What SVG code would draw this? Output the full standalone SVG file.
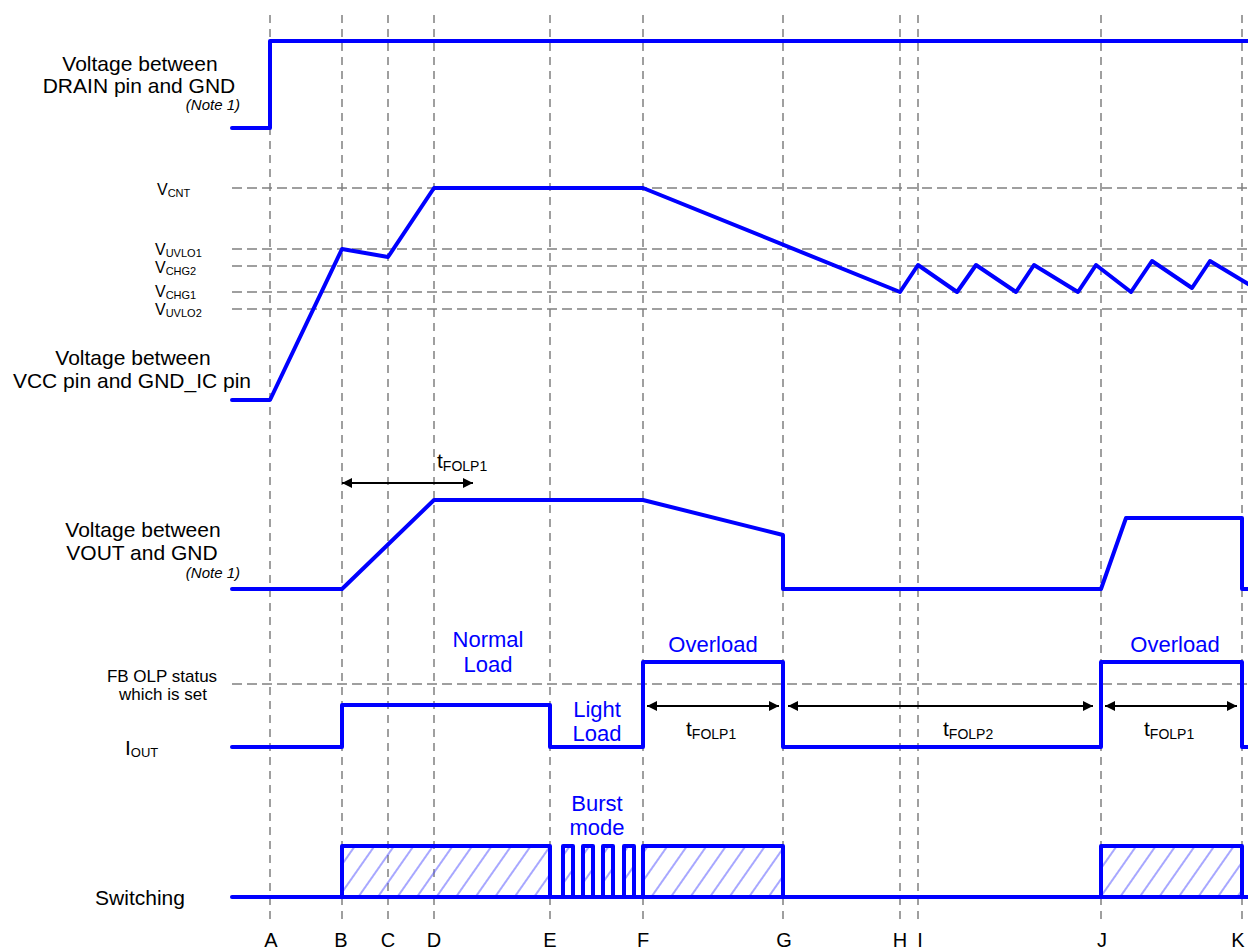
<svg xmlns="http://www.w3.org/2000/svg" width="1248" height="952" viewBox="0 0 1248 952">
<style>
.grid{stroke:#808080;stroke-width:1.5;fill:none}
.gv{stroke-dasharray:8 6}
.gh{stroke-dasharray:10 5}
.wave{stroke:#0000ff;stroke-width:4;fill:none;stroke-linejoin:round;stroke-linecap:round}
.hatch{stroke:#0000ff;stroke-width:4;fill:url(#hatch);stroke-linejoin:round}
.lbl{font-family:"Liberation Sans",Arial,sans-serif;font-size:21px;fill:#000}
.note{font-family:"Liberation Sans",Arial,sans-serif;font-size:15px;font-style:italic;fill:#000;text-anchor:end}
.vl{font-family:"Liberation Sans",Arial,sans-serif;font-size:16px;fill:#000}
.sub{font-size:11px}
.sub2{font-size:14px}
.blue{font-family:"Liberation Sans",Arial,sans-serif;font-size:22px;fill:#0000ff;text-anchor:middle}
.mid{text-anchor:middle}
.letter{font-family:"Liberation Sans",Arial,sans-serif;font-size:20px;fill:#000;text-anchor:middle}
.arr{stroke:#000;stroke-width:2;fill:none;marker-start:url(#ah);marker-end:url(#ah)}
</style>
<defs>
<pattern id="hatch" patternUnits="userSpaceOnUse" width="16" height="16" patternTransform="rotate(35)">
<line x1="8" y1="0" x2="8" y2="16" stroke="#5050ff" stroke-width="1"/>
</pattern>
<marker id="ah" viewBox="0 0 10 10" refX="10" refY="5" markerWidth="11" markerHeight="10" markerUnits="userSpaceOnUse" orient="auto-start-reverse">
<path d="M0,0 L10,5 L0,10 z" fill="#000"/>
</marker>
</defs>
<rect width="1248" height="952" fill="#fff"/>
<g id="grid">
<g class="grid gv">
<line x1="270" y1="15" x2="270" y2="925"/>
<line x1="342" y1="15" x2="342" y2="925"/>
<line x1="388" y1="15" x2="388" y2="925"/>
<line x1="434" y1="15" x2="434" y2="925"/>
<line x1="550" y1="15" x2="550" y2="925"/>
<line x1="643" y1="15" x2="643" y2="925"/>
<line x1="783" y1="15" x2="783" y2="925"/>
<line x1="900" y1="15" x2="900" y2="925"/>
<line x1="918" y1="15" x2="918" y2="925"/>
<line x1="1101" y1="15" x2="1101" y2="925"/>
<line x1="1242" y1="15" x2="1242" y2="925"/>
</g>
<g class="grid gh">
<line x1="232" y1="188" x2="1248" y2="188"/>
<line x1="232" y1="249" x2="1248" y2="249"/>
<line x1="232" y1="266" x2="1248" y2="266"/>
<line x1="232" y1="292" x2="1248" y2="292"/>
<line x1="232" y1="309" x2="1248" y2="309"/>
<line x1="232" y1="684" x2="1248" y2="684"/>
</g>
</g>
<g id="drain">
<text class="lbl mid" x="140" y="71">Voltage between</text>
<text class="lbl mid" x="139" y="93">DRAIN pin and GND</text>
<text class="note" x="240" y="110">(Note 1)</text>
<polyline class="wave" points="232,128 270,128 270,41 1250,41"/>
</g>
<g id="vcc">
<text class="vl" x="157" y="195">V<tspan class="sub" dy="2">CNT</tspan></text>
<text class="vl" x="155" y="255">V<tspan class="sub" dy="2">UVLO1</tspan></text>
<text class="vl" x="155" y="273">V<tspan class="sub" dy="2">CHG2</tspan></text>
<text class="vl" x="155" y="297">V<tspan class="sub" dy="2">CHG1</tspan></text>
<text class="vl" x="155" y="315">V<tspan class="sub" dy="2">UVLO2</tspan></text>
<text class="lbl mid" x="133" y="365">Voltage between</text>
<text class="lbl mid" x="132" y="388">VCC pin and GND_IC pin</text>
<polyline class="wave" points="232,400 270,400 342,249 388,257 434,188 643,188 900,292 918,265 957,292 976,265 1016,292 1034,265 1078,292 1096,265 1131,292 1152,261 1192,288 1210,261 1250,285"/>
</g>
<g id="vout">
<text class="lbl mid" x="143" y="537">Voltage between</text>
<text class="lbl mid" x="142" y="560">VOUT and GND</text>
<text class="note" x="240" y="578">(Note 1)</text>
<polyline class="wave" points="232,589 342,589 434,500 643,500 783,535 783,589 1101,589 1126,518 1242,518 1242,589 1250,589"/>
</g>
<g id="iout">
<text class="vl" x="162" y="682" style="font-size:17px;text-anchor:middle">FB OLP status</text>
<text class="vl" x="163" y="700" style="font-size:17px;text-anchor:middle">which is set</text>
<text class="lbl" x="125" y="755">I<tspan style="font-size:13px" dy="2">OUT</tspan></text>
<text class="blue" x="488" y="647">Normal</text>
<text class="blue" x="488" y="672">Load</text>
<text class="blue" x="597" y="717">Light</text>
<text class="blue" x="597" y="741">Load</text>
<text class="blue" x="713" y="652">Overload</text>
<text class="blue" x="1175" y="652">Overload</text>
<polyline class="wave" points="232,747 342,747 342,705 550,705 550,747 643,747 643,662 783,662 783,747 1101,747 1101,662 1242,662 1242,747 1250,747"/>
<text class="lbl" x="686" y="736">t<tspan class="sub2" dy="3">FOLP1</tspan></text>
<text class="lbl" x="943" y="736">t<tspan class="sub2" dy="3">FOLP2</tspan></text>
<text class="lbl" x="1144" y="736">t<tspan class="sub2" dy="3">FOLP1</tspan></text>
<text class="lbl" x="437" y="468">t<tspan class="sub2" dy="3">FOLP1</tspan></text>
</g>
<g id="switching">
<text class="lbl mid" x="140" y="905">Switching</text>
<text class="blue" x="597" y="811">Burst</text>
<text class="blue" x="597" y="835">mode</text>
<rect class="hatch" x="342" y="846" width="208" height="51"/>
<rect class="hatch" x="563" y="846" width="10" height="51"/>
<rect class="hatch" x="583" y="846" width="10" height="51"/>
<rect class="hatch" x="603" y="846" width="10" height="51"/>
<rect class="hatch" x="624" y="846" width="10" height="51"/>
<rect class="hatch" x="643" y="846" width="140" height="51"/>
<rect class="hatch" x="1101" y="846" width="141" height="51"/>
<line class="wave" x1="232" y1="897" x2="1250" y2="897"/>
</g>
<g id="connectors">
<line class="arr" x1="342" y1="483" x2="473" y2="483"/>
<line class="arr" x1="647" y1="706" x2="779" y2="706"/>
<line class="arr" x1="788" y1="706" x2="1093" y2="706"/>
<line class="arr" x1="1105" y1="706" x2="1237" y2="706"/>
</g>
<g id="letters">
<text class="letter" x="271" y="947">A</text>
<text class="letter" x="341" y="947">B</text>
<text class="letter" x="388" y="947">C</text>
<text class="letter" x="434" y="947">D</text>
<text class="letter" x="550" y="947">E</text>
<text class="letter" x="643" y="947">F</text>
<text class="letter" x="784" y="947">G</text>
<text class="letter" x="900" y="947">H</text>
<text class="letter" x="920" y="947">I</text>
<text class="letter" x="1102" y="947">J</text>
<text class="letter" x="1238" y="947">K</text>
</g>
</svg>
